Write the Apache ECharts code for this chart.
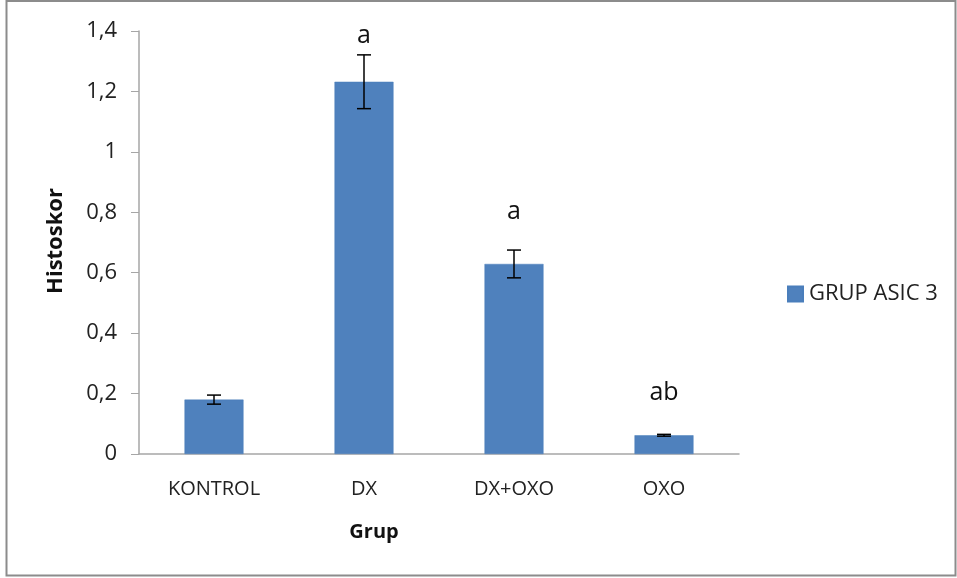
<!DOCTYPE html>
<html>
<head>
<meta charset="utf-8">
<script src="https://cdn.jsdelivr.net/npm/echarts@6/dist/echarts.min.js"></script>
<style>
  html, body { margin: 0; padding: 0; background: #fff; }
  #chart { width: 957px; height: 578px; }
</style>
</head>
<body>
<div id="chart"></div>
<script>
// Histology scores per group (mean ± error)
const categories = ['KONTROL', 'DX', 'DX+OXO', 'OXO'];
const means = [0.18, 1.232, 0.629, 0.062];
const errors = [0.015, 0.089, 0.046, 0.003];
const letters = ['', 'a', 'a', 'ab'];
const yTicks = [0, 0.2, 0.4, 0.6, 0.8, 1, 1.2, 1.4];

const FONT = '"Open Sans", "Liberation Sans", sans-serif';
// gap in pixels between the top of each error bar and its letter
const letterGap = [0, 19, 38, 41];

const chart = echarts.init(document.getElementById('chart'), null, { renderer: 'canvas' });

const errData = categories.map((c, i) => [i, means[i] - errors[i], means[i] + errors[i], i]);

chart.setOption({
  animation: false,
  backgroundColor: '#fff',
  grid: { left: 139, right: 218, top: 31, bottom: 124, containLabel: false },
  legend: {
    data: ['GRUP ASIC 3'],
    left: 782, top: 278,
    itemWidth: 15, itemHeight: 15, itemGap: 6,
    icon: 'rect',
    textStyle: { fontFamily: FONT, fontSize: 22, color: '#222', padding: [0, 0, 0, 1] }
  },
  xAxis: {
    type: 'category',
    data: categories,
    axisLine: { lineStyle: { color: '#a6a6a6', width: 1.5 } },
    axisTick: { show: false },
    axisLabel: { margin: 25, fontFamily: FONT, fontSize: 20, color: '#222' }
  },
  yAxis: {
    type: 'value',
    min: 0, max: 1.4, interval: 0.2,
    axisLine: { show: true, lineStyle: { color: '#a6a6a6', width: 1.5 } },
    axisTick: { show: true, length: 8, lineStyle: { color: '#a6a6a6' } },
    splitLine: { show: false },
    axisLabel: {
      margin: 22, fontFamily: FONT, fontSize: 22, color: '#222',
      formatter: v => {
        const t = yTicks.find(k => Math.abs(k - v) < 1e-9);
        return t === undefined ? '' : String(Math.round(t * 10) / 10).replace('.', ',');
      }
    }
  },
  graphic: [
    { type: 'rect', silent: true, shape: { x: 6.5, y: 1, width: 949, height: 574.5 },
      style: { fill: 'none', stroke: '#8c8c8c', lineWidth: 2 } },
    { type: 'text', silent: true, x: 56, y: 241, rotation: Math.PI / 2,
      style: { text: 'Histoskor', font: 'bold 22px ' + FONT, fill: '#111',
               textAlign: 'center', textVerticalAlign: 'middle' } },
    { type: 'text', silent: true, x: 374, y: 532,
      style: { text: 'Grup', font: 'bold 20px ' + FONT, fill: '#111',
               textAlign: 'center', textVerticalAlign: 'middle' } }
  ],
  series: [
    {
      name: 'GRUP ASIC 3',
      type: 'bar',
      data: means,
      barWidth: 59,
      itemStyle: { color: '#4f81bd', borderColor: '#4a7ebb', borderWidth: 0.5 }
    },
    {
      type: 'custom',
      name: 'error',
      data: errData,
      z: 10,
      renderItem: (params, api) => {
        const i = api.value(0);
        const lo = api.coord([i, api.value(1)]);
        const hi = api.coord([i, api.value(2)]);
        const half = 7;
        const st = { stroke: '#000', lineWidth: 1.5 };
        const children = [
          { type: 'line', shape: { x1: hi[0], y1: hi[1], x2: lo[0], y2: lo[1] }, style: st },
          { type: 'line', shape: { x1: hi[0] - half, y1: hi[1], x2: hi[0] + half, y2: hi[1] }, style: st },
          { type: 'line', shape: { x1: lo[0] - half, y1: lo[1], x2: lo[0] + half, y2: lo[1] }, style: st }
        ];
        const idx = api.value(3);
        if (letters[idx]) {
          children.push({
            type: 'text',
            style: {
              text: letters[idx], x: hi[0], y: hi[1] - letterGap[idx],
              font: '25px ' + FONT, fill: '#111',
              textAlign: 'center', textVerticalAlign: 'middle'
            }
          });
        }
        return { type: 'group', children };
      }
    }
  ]
});
</script>
</body>
</html>
